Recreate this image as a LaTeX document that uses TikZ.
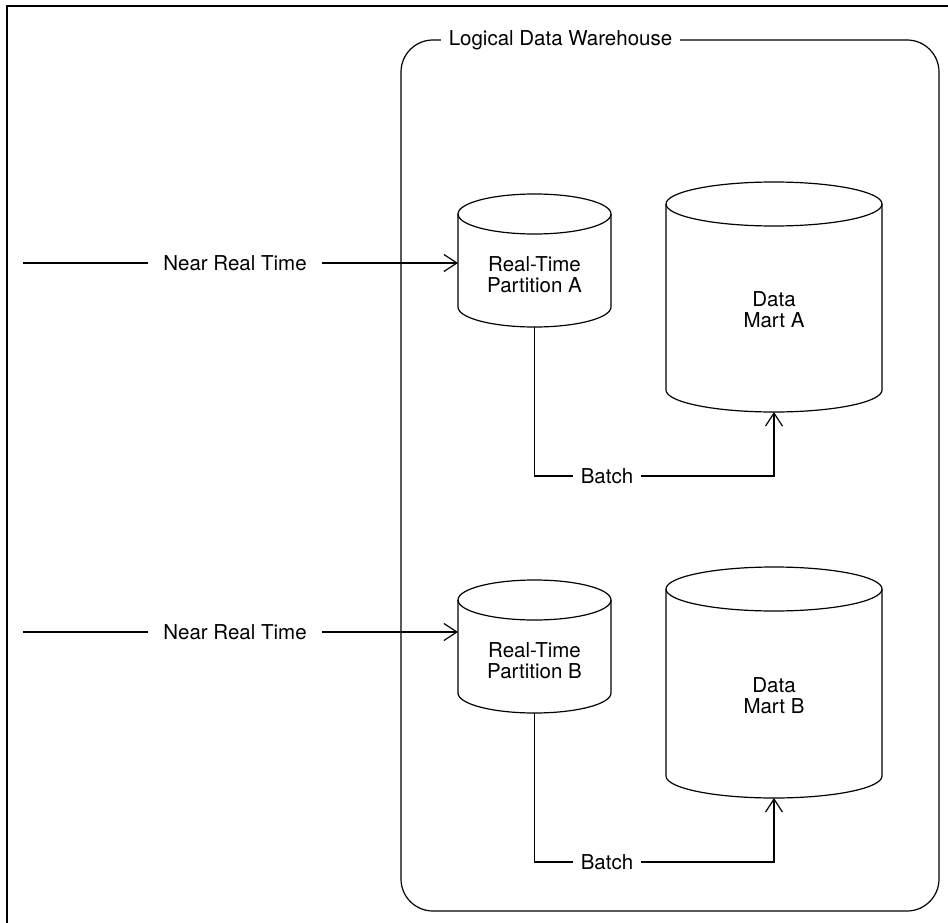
\documentclass[tikz,border=0pt]{standalone}
\usepackage{fontspec}
\setmainfont{TeX Gyre Heros}
\usetikzlibrary{arrows.meta,calc}
\newcommand\drawcyl[3]{%
  \draw[ln] ([yshift=-#3]#1.north west) -- ([yshift=#3]#1.south west)
    arc[start angle=180,end angle=360,x radius=#2,y radius=#3]
    -- ([yshift=-#3]#1.north east);
  \draw[ln] ([yshift=-#3]#1.north) ellipse [x radius=#2, y radius=#3];}
\begin{document}
\begin{tikzpicture}[x=1pt,y=-1pt,
  ln/.style={line width=1.2pt, black},
  arr/.style={ln, -{Straight Barb[length=13pt,width=17pt,line width=1.2pt]}},
  shell/.style={inner sep=0pt, outer sep=0pt},
  txt/.style={font=\fontsize{20.5}{21}\selectfont, align=center, inner sep=0pt},
  lbl/.style={font=\fontsize{20.5}{21}\selectfont, inner ysep=2pt, fill=white}]
\useasboundingbox (0,0) rectangle (948,923);
% outer frame
\draw[line width=2pt] (7,923) -- (7,6) -- (948,6);
% logical data warehouse
\node[draw, ln, rounded corners=32pt, minimum width=538pt, minimum height=871pt, shell] (wh) at (670,475.5) {};
\node[lbl, inner xsep=8pt] (ldw) at (560.5,40) {Logical Data Warehouse};
% cylinders
\node[shell, minimum width=153pt, minimum height=133pt] (pA) at (534.5,260.5) {};
\node[shell, minimum width=153pt, minimum height=133pt] (pB) at (534.5,646.5) {};
\node[shell, minimum width=216pt, minimum height=230pt] (dA) at (774,297) {};
\node[shell, minimum width=216pt, minimum height=231pt] (dB) at (774,682.5) {};
\drawcyl{pA}{76.5pt}{20pt}
\drawcyl{pB}{76.5pt}{20pt}
\drawcyl{dA}{108pt}{22pt}
\drawcyl{dB}{108pt}{22pt}
\node[txt] (pAt) at (534.5,275) {Real-Time\\Partition A};
\node[txt] (pBt) at (534.5,661) {Real-Time\\Partition B};
\node[txt] (dAt) at (774,310) {Data\\Mart A};
\node[txt] (dBt) at (774,696) {Data\\Mart B};
% near real time feeds
\coordinate (inA) at (23,263);
\coordinate (inB) at (23,632);
\node[lbl, inner xsep=15pt] (nA) at (235,263) {Near Real Time};
\node[lbl, inner xsep=15pt] (nB) at (235,632) {Near Real Time};
\draw[ln] (inA) -- (nA.west);
\draw[arr] (nA.east) -- (nA -| pA.west);
\draw[ln] (inB) -- (nB.west);
\draw[arr] (nB.east) -- (nB -| pB.west);
% batch
\node[lbl, inner xsep=8pt] (bA) at (607,476) {Batch};
\node[lbl, inner xsep=8pt] (bB) at (607,862) {Batch};
\draw[ln] (pA.south) |- (bA.west);
\draw[arr] (bA.east) -| (dA.south);
\draw[ln] (pB.south) |- (bB.west);
\draw[arr] (bB.east) -| (dB.south);
\end{tikzpicture}
\end{document}
